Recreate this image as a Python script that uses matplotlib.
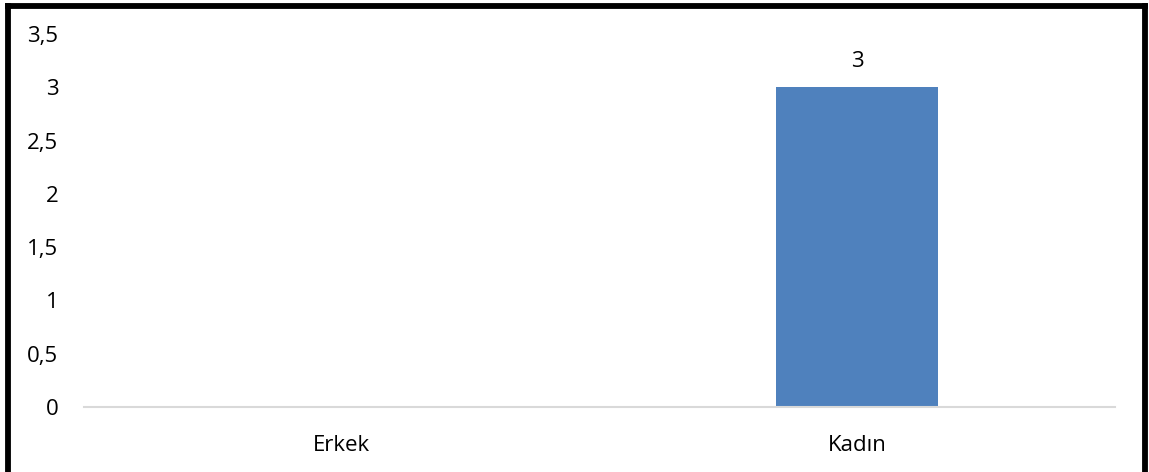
import matplotlib
matplotlib.use("Agg")
import matplotlib.pyplot as plt
from matplotlib.lines import Line2D

categories = ["Erkek", "Kadın"]
values = [0, 3]
yticks = [0, 0.5, 1, 1.5, 2, 2.5, 3, 3.5]
ytick_labels = ["0", "0,5", "1", "1,5", "2", "2,5", "3", "3,5"]

plt.rcParams['font.family'] = ['Open Sans', 'DejaVu Sans']

W, H = 1149, 472
fig = plt.figure(figsize=(W / 100, H / 100), dpi=100)
ax = fig.add_axes([84 / W, 65 / H, (1115 - 84) / W, (407 - 34) / H])

x = list(range(len(categories)))
bars = ax.bar(x, values, width=0.314, color="#4f81bd", zorder=2)
for xi, v in zip(x, values):
    if v > 0:
        ax.annotate(str(v), (xi, v), xytext=(0, 11), textcoords="offset points",
                    ha="center", va="bottom", fontsize=16, color="#000000")

ax.set_xlim(-0.5, len(categories) - 0.5)
ax.set_ylim(0, 3.5)
ax.set_yticks(yticks)
ax.set_yticklabels(ytick_labels)
ax.set_xticks(x)
ax.set_xticklabels(categories)
ax.tick_params(axis="y", length=0, pad=18.5, labelsize=16)
ax.tick_params(axis="x", length=0, pad=20, labelsize=16)
for side in ["top", "right", "left"]:
    ax.spines[side].set_visible(False)
ax.spines["bottom"].set_color("#d9d9d9")
ax.spines["bottom"].set_linewidth(1.5)

# black frame (bottom edge clipped in reference)
lw = 4.2
fig.add_artist(Line2D([7.5 / W, 7.5 / W], [0, 1 - 5.5 / H], color="black", lw=lw, transform=fig.transFigure, solid_capstyle="projecting"))
fig.add_artist(Line2D([7.5 / W, 1145 / W], [1 - 5.5 / H, 1 - 5.5 / H], color="black", lw=lw, transform=fig.transFigure, solid_capstyle="projecting"))
fig.add_artist(Line2D([1145 / W, 1145 / W], [0, 1 - 5.5 / H], color="black", lw=lw, transform=fig.transFigure, solid_capstyle="projecting"))

fig.savefig("out.png", dpi=100)
